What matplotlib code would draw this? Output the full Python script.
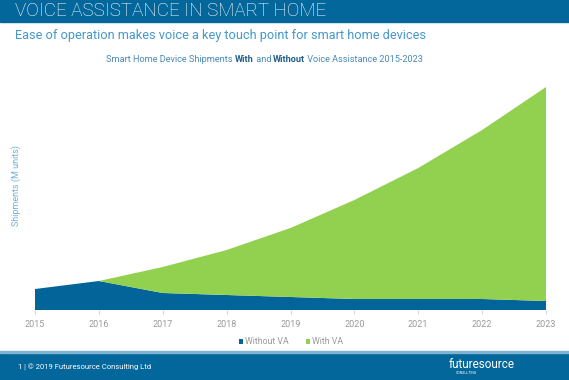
import matplotlib
matplotlib.use("Agg")
import matplotlib.pyplot as plt
from matplotlib.patches import Rectangle

plt.rcParams["font.family"] = ["Roboto", "DejaVu Sans"]

# Data (M units)
YEARS = [2015, 2016, 2017, 2018, 2019, 2020, 2021, 2022, 2023]
WITHOUT_VA = [21, 29, 17, 15, 13, 11, 11, 11, 9]
WITH_VA = [0, 0, 26, 45, 69, 99, 131, 169, 214]
SERIES_LABELS = ["Without VA", "With VA"]

BRAND_BLUE = "#04679c"
DARK_BLUE = "#03649a"
GREEN = "#92d050"
SUB_BLUE = "#4598c9"
TITLE_BLUE = "#4a8ab3"
TICK_GREY = "#9a9a9a"


def main():
    fig = plt.figure(figsize=(5.69, 3.8), dpi=100)

    # header and footer bands
    fig.patches.append(Rectangle((0, 1 - 22 / 380), 1, 22 / 380, transform=fig.transFigure,
                                 color=BRAND_BLUE, zorder=0))
    fig.patches.append(Rectangle((0, 0), 1, 27 / 380, transform=fig.transFigure,
                                 color=BRAND_BLUE, zorder=0))
    fig.patches.append(Rectangle((0, 27 / 380), 1, 2 / 380, transform=fig.transFigure,
                                 color="#7fb3d0", zorder=0))

    fig.text(15 / 569, 1 - 11 / 380, "VOICE ASSISTANCE IN SMART HOME", color="white",
             fontsize=13.5, fontweight="light", va="center", ha="left")
    fig.text(15 / 569, 1 - 36 / 380,
             "Ease of operation makes voice a key touch point for smart home devices",
             color=SUB_BLUE, fontsize=9.2, va="center", ha="left")

    # chart title with bold words, laid out piece by piece
    parts = [("Smart Home Device Shipments ", "normal"), ("With", "bold"), (" and ", "normal"),
             ("Without", "bold"), (" Voice Assistance 2015-2023", "normal")]
    renderer = fig.canvas.get_renderer()
    texts = []
    for s, w in parts:
        t = fig.text(0, 1 - 59 / 380, s, color=TITLE_BLUE if w == "normal" else "#1f5f8a",
                     fontsize=6.6, fontweight=w, va="center", ha="left")
        texts.append(t)
    widths = [t.get_window_extent(renderer).width for t in texts]
    x = 106
    for t, wd in zip(texts, widths):
        t.set_x(x / 569)
        x += wd

    ax = fig.add_axes([35 / 569, 1 - 310 / 380, (546 - 35) / 569, 230 / 380])
    ax.stackplot(YEARS, WITHOUT_VA, WITH_VA, colors=[DARK_BLUE, GREEN],
                 labels=SERIES_LABELS, linewidth=0)
    ax.set_xlim(YEARS[0], YEARS[-1])
    ax.set_ylim(0, 230)
    ax.set_xticks(YEARS)
    ax.set_xticklabels([str(y) for y in YEARS])
    ax.set_yticks([])
    for spine in ax.spines.values():
        spine.set_visible(False)
    ax.tick_params(axis="x", colors="#d8d8d8", labelcolor=TICK_GREY, labelsize=6.5,
                   length=3, pad=4)

    fig.text(16 / 569, 1 - 185 / 380, "Shipments (M units)", color="#6fb0da", fontsize=6.5,
             rotation=90, va="center", ha="center")

    ax.legend(loc="center", bbox_to_anchor=(291 / 569, 1 - 342 / 380),
              bbox_transform=fig.transFigure, ncol=2, frameon=False, fontsize=6.3,
              handlelength=0.5, handleheight=0.5, handletextpad=0.2, columnspacing=2.0,
              labelcolor=TICK_GREY)

    fig.text(18 / 569, 13 / 380, "1 | \u00a9 2019 Futuresource Consulting Ltd", color="white",
             fontsize=5.5, va="center", ha="left")
    fig.text(515 / 569, 16 / 380, "futuresource", color="white", fontsize=8.5,
             va="center", ha="right")
    fig.text(456 / 569, 7 / 380, "CONSULTING", color="white", fontsize=2.5,
             va="center", ha="left")

    fig.savefig("out.png", dpi=100, facecolor="white")


if __name__ == "__main__":
    main()
